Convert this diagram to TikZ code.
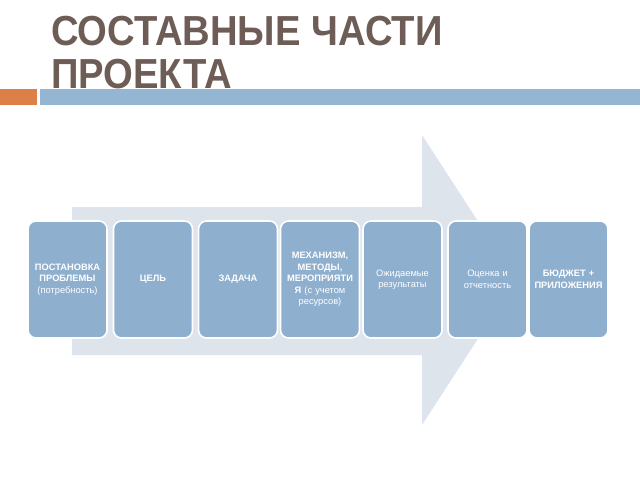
\documentclass[tikz,border=0pt]{standalone}
\usepackage{fontspec}
\setmainfont{Liberation Sans}
\definecolor{titlecol}{HTML}{6E5C56}
\definecolor{orangebar}{HTML}{DD8047}
\definecolor{bluebar}{HTML}{94B6D2}
\definecolor{arrowcol}{HTML}{DDE4EB}
\definecolor{boxcol}{HTML}{8FAFCF}
\tikzset{
  stepbox/.style={draw=white, line width=1.6pt, fill=boxcol, rounded corners=8pt,
    minimum width=79pt, minimum height=117pt, text width=77pt, align=center,
    inner sep=0.5pt, text=white, font=\fontsize{9.3}{11.5}\selectfont},
  titletext/.style={anchor=base west, inner sep=0pt, text=titlecol,
    font=\fontsize{42}{45}\selectfont\bfseries}
}
\begin{document}
\begin{tikzpicture}[x=1pt,y=-1pt]
\useasboundingbox (0,0) rectangle (640,480);
\fill[white] (0,0) rectangle (640,480);
% title
\node[titletext] (t1) at (51,45) {\scalebox{0.91}[1]{СОСТАВНЫЕ ЧАСТИ}};
\node[titletext] (t2) at (51,88) {\scalebox{0.91}[1]{ПРОЕКТА}};
% bars
\fill[orangebar] (0,89) rectangle (37,105);
\fill[bluebar] (40,89) rectangle (640,105);
% big arrow
\fill[arrowcol] (72,207) -- (422,207) -- (422,135) -- (516,280) -- (422,425) -- (422,355) -- (72,355) -- cycle;
% boxes
\node[stepbox] (b1) at (67.5,279.5) {\textbf{ПОСТАНОВКА ПРОБЛЕМЫ}\\(потребность)};
\node[stepbox] (b2) at (153,279.5) {\textbf{ЦЕЛЬ}};
\node[stepbox] (b3) at (238,279.5) {\textbf{ЗАДАЧА}};
\node[stepbox] (b4) at (320,279.5) {\textbf{МЕХАНИЗМ,}\\\textbf{МЕТОДЫ,}\\\textbf{МЕРОПРИЯТИ}\\\textbf{Я} (с учетом\\ресурсов)};
\node[stepbox] (b5) at (402.5,279.5) {Ожидаемые\\результаты};
\node[stepbox] (b6) at (487.5,279.5) {Оценка и\\отчетность};
\node[stepbox] (b7) at (568.5,279.5) {\textbf{БЮДЖЕТ +}\\\textbf{ПРИЛОЖЕНИЯ}};
\end{tikzpicture}
\end{document}
